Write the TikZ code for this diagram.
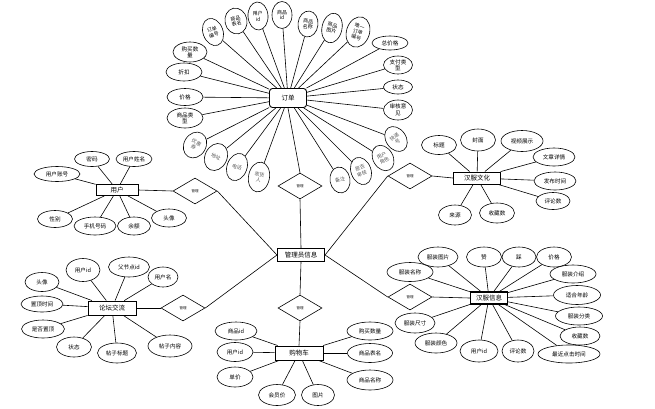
\documentclass[tikz,border=0pt]{standalone}
\usepackage{fontspec}
\newfontfamily\cjk{Noto Sans CJK SC}
\usetikzlibrary{shapes.geometric}
\begin{document}
\begin{tikzpicture}[x=1pt,y=-1pt,
  attr/.style={ellipse, draw, fill=white, inner sep=0pt, line width=0.6pt, font=\cjk\fontsize{5.6}{6.4}\selectfont, align=center},
  tattr/.style={attr, font=\cjk\fontsize{5}{5.8}\selectfont},
  rattr/.style={tattr, text=black!65},
  ent/.style={rectangle, draw, fill=white, inner sep=0pt, line width=0.9pt, font=\cjk\fontsize{6.5}{7.5}\selectfont},
  rel/.style={diamond, draw, fill=white, inner sep=0pt, aspect=1.7, minimum width=44, minimum height=26, line width=0.6pt, font=\cjk\fontsize{3.5}{4}\selectfont},
  conn/.style={line width=0.6pt}]
\useasboundingbox (0,0) rectangle (655,408);
\fill[white] (0,0) rectangle (655,408);

% entities
\node[ent, rounded corners=3pt, minimum width=37, minimum height=19] (dd) at (288,98) {订单};
\node[ent, line width=1.1pt, minimum width=47, minimum height=13] (gly) at (301,255) {管理员信息};
\node[ent, minimum width=42, minimum height=11] (yh) at (117,190) {用户};
\node[ent, minimum width=47, minimum height=12] (wh) at (477,178) {汉服文化};
\node[ent, minimum width=48, minimum height=14] (lt) at (112,308) {论坛交流};
\node[ent, minimum width=48, minimum height=14] (gwc) at (299,353) {购物车};
\node[ent, line width=1.1pt, minimum width=37, minimum height=12] (xx) at (489,298) {汉服信息};

% relations
\node[rel] (r1) at (195,191) {管理};
\node[rel] (r2) at (300,186) {管理};
\node[rel] (r3) at (410,176) {管理};
\node[rel] (r4) at (183,308) {管理};
\node[rel] (r5) at (300,308) {管理};
\node[rel] (r6) at (410,297) {管理};

\draw[conn] (yh.east) -- (r1.west);
\draw[conn] (r1.east) -- (gly.west);
\draw[conn] (dd.south) -- (r2.north);
\draw[conn] (r2.south) -- (gly.north);
\draw[conn] (wh.west) -- (r3.east);
\draw[conn] (r3.west) -- (gly.east);
\draw[conn] (lt.east) -- (r4.west);
\draw[conn] (r4.east) -- (gly.west);
\draw[conn] (gwc.north) -- (r5.south);
\draw[conn] (r5.north) -- (gly.south);
\draw[conn] (xx.west) -- (r6.east);
\draw[conn] (r6.west) -- (gly.east);

% order attributes
\node[tattr, rotate=20, minimum width=20, minimum height=28] (a1) at (213,32) {订单\\编号};
\node[tattr, rotate=12, minimum width=22, minimum height=26] (a2) at (236,21) {商品\\表名};
\node[tattr, rotate=4, minimum width=20, minimum height=28] (a3) at (258,16) {用户\\id};
\node[tattr, minimum width=20, minimum height=27] (a4) at (282,15) {商品\\id};
\node[tattr, rotate=-6, minimum width=20, minimum height=26] (a5) at (308,24) {商品\\名称};
\node[tattr, rotate=-12, minimum width=20, minimum height=30] (a6) at (332,28) {商品\\图片};
\node[tattr, rotate=-18, minimum width=23, minimum height=31] (a7) at (358,32) {唯一\\订单\\编号};
\node[attr, minimum width=36, minimum height=14] (a8) at (390,43) {总价格};
\node[attr, minimum width=29, minimum height=18] (a9) at (398,65) {支付类\\型};
\node[attr, minimum width=29, minimum height=14] (a10) at (398,87) {状态};
\node[attr, minimum width=29, minimum height=20] (a11) at (398,110) {审核意\\见};
\node[rattr, rotate=35, minimum width=20, minimum height=27] (a12) at (396,139) {快递\\号};
\node[rattr, rotate=30, minimum width=20, minimum height=27] (a13) at (383,158) {用户\\角色};
\node[rattr, rotate=20, minimum width=20, minimum height=28] (a14) at (361,171) {是否\\审核};
\node[rattr, rotate=10, minimum width=20, minimum height=26] (a15) at (340,180) {备注};
\node[rattr, rotate=-10, minimum width=21, minimum height=30] (a16) at (259,177) {收货\\人};
\node[rattr, rotate=-20, minimum width=20, minimum height=28] (a17) at (237,167) {电话};
\node[rattr, rotate=-25, minimum width=22, minimum height=28] (a18) at (216,157) {地址};
\node[rattr, rotate=-30, minimum width=22, minimum height=27] (a19) at (195,145) {优惠\\券};
\node[attr, minimum width=36, minimum height=20] (a20) at (185,118) {商品类\\型};
\node[attr, minimum width=36, minimum height=17] (a21) at (185,97) {价格};
\node[attr, minimum width=36, minimum height=18] (a22) at (184,72) {折扣};
\node[attr, minimum width=34, minimum height=20] (a23) at (190,52) {购买数\\量};
\foreach \i in {1,...,23} {\draw[conn] (a\i) -- (dd);}

% user attributes
\node[attr, minimum width=46, minimum height=15] (u1) at (57,174) {用户账号};
\node[attr, minimum width=35, minimum height=15] (u2) at (92,159) {密码};
\node[attr, minimum width=36, minimum height=15] (u3) at (134,159) {用户姓名};
\node[attr, minimum width=35, minimum height=17] (u4) at (55,219) {性别};
\node[attr, minimum width=42, minimum height=18] (u5) at (95,226) {手机号码};
\node[attr, minimum width=33, minimum height=18] (u6) at (134,226) {余额};
\node[attr, minimum width=35, minimum height=18] (u7) at (169,218) {头像};
\foreach \i in {1,...,7} {\draw[conn] (u\i) -- (yh);}

% culture attributes
\node[attr, minimum width=35, minimum height=19] (w1) at (439,145) {标题};
\node[attr, minimum width=35, minimum height=22] (w2) at (478,140) {封面};
\node[attr, minimum width=42, minimum height=21] (w3) at (522,141) {视频展示};
\node[attr, minimum width=42, minimum height=18] (w4) at (554,157) {文章详情};
\node[attr, minimum width=42, minimum height=18] (w5) at (555,181) {发布时间};
\node[attr, minimum width=34, minimum height=17] (w6) at (553,201) {评论数};
\node[attr, minimum width=33, minimum height=20] (w7) at (455,215) {来源};
\node[attr, minimum width=35, minimum height=20] (w8) at (497,213) {收藏数};
\foreach \i in {1,...,8} {\draw[conn] (w\i) -- (wh);}

% forum attributes
\node[attr, minimum width=34, minimum height=19] (l1) at (42,282) {头像};
\node[attr, minimum width=34, minimum height=23] (l2) at (83,270) {用户id};
\node[attr, minimum width=41, minimum height=20] (l3) at (129,267) {父节点id};
\node[attr, minimum width=30, minimum height=20] (l4) at (163,277) {用户名};
\node[attr, minimum width=42, minimum height=16] (l5) at (42,304) {置顶时间};
\node[attr, minimum width=43, minimum height=18] (l6) at (43,329) {是否置顶};
\node[attr, minimum width=35, minimum height=20] (l7) at (74,347) {状态};
\node[attr, minimum width=39, minimum height=20] (l8) at (117,353) {帖子标题};
\node[attr, minimum width=44, minimum height=22] (l9) at (170,346) {帖子内容};
\foreach \i in {1,...,9} {\draw[conn] (l\i) -- (lt);}

% cart attributes
\node[attr, minimum width=42, minimum height=18] (g1) at (236,331) {商品id};
\node[attr, minimum width=36, minimum height=19] (g2) at (235,352) {用户id};
\node[attr, minimum width=36, minimum height=20] (g3) at (235,377) {单价};
\node[attr, minimum width=37, minimum height=21] (g4) at (277,395) {会员价};
\node[attr, minimum width=33, minimum height=21] (g5) at (318,395) {图片};
\node[attr, minimum width=46, minimum height=18] (g6) at (370,331) {购买数量};
\node[attr, minimum width=45, minimum height=19] (g7) at (370,353) {商品表名};
\node[attr, minimum width=46, minimum height=20] (g8) at (370,380) {商品名称};
\foreach \i in {1,...,8} {\draw[conn] (g\i) -- (gwc);}

% hanfu info attributes
\node[attr, minimum width=46, minimum height=19] (x1) at (410,272) {服装名称};
\node[attr, minimum width=40, minimum height=20] (x2) at (438,257) {服装图片};
\node[attr, minimum width=35, minimum height=20] (x3) at (484,257) {赞};
\node[attr, minimum width=34, minimum height=20] (x4) at (519,257) {踩};
\node[attr, minimum width=35, minimum height=20] (x5) at (554,257) {价格};
\node[attr, minimum width=46, minimum height=18] (x6) at (573,274) {服装介绍};
\node[attr, minimum width=47, minimum height=19] (x7) at (577,295) {适合年龄};
\node[attr, minimum width=47, minimum height=18] (x8) at (579,316) {服装分类};
\node[attr, minimum width=40, minimum height=18] (x9) at (580,336) {收藏数};
\node[attr, minimum width=62, minimum height=18] (x10) at (569,354) {最近点击时间};
\node[attr, minimum width=32, minimum height=22] (x11) at (518,351) {评论数};
\node[attr, minimum width=38, minimum height=22] (x12) at (479,351) {用户id};
\node[attr, minimum width=42, minimum height=20] (x13) at (436,343) {服装颜色};
\node[attr, minimum width=40, minimum height=20] (x14) at (415,323) {服装尺寸};
\foreach \i in {1,...,14} {\draw[conn] (x\i) -- (xx);}
\end{tikzpicture}
\end{document}
